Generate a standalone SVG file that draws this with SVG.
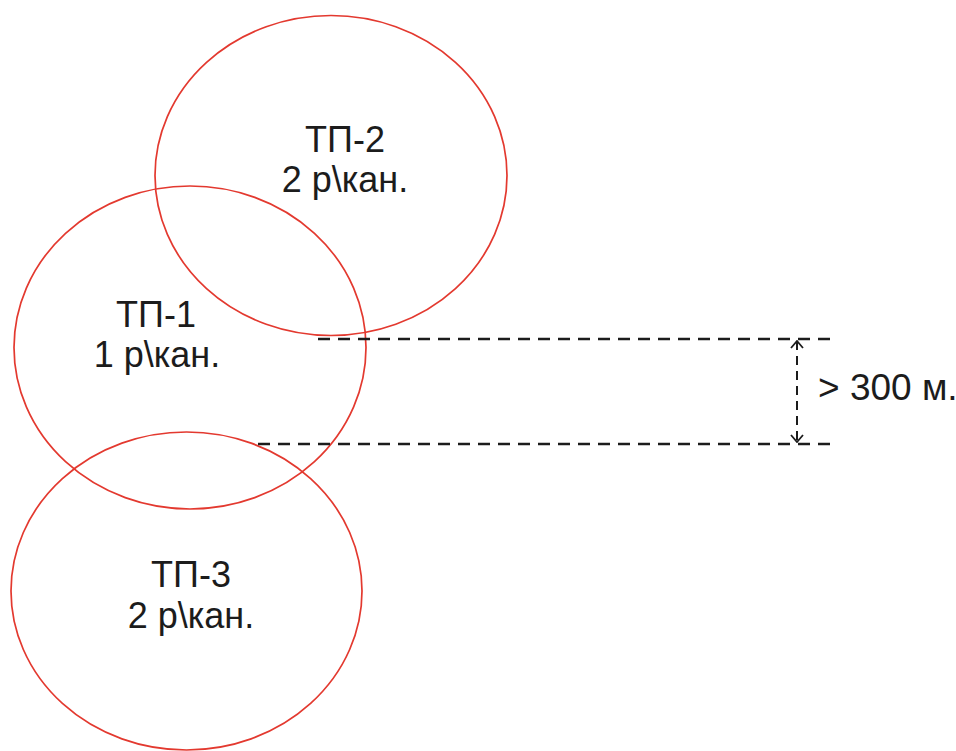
<svg xmlns="http://www.w3.org/2000/svg" width="956" height="751" viewBox="0 0 956 751">
<style>
.zone{fill:none;stroke:#e3392f;stroke-width:1.7}
.lbl{font-family:"Liberation Sans",Arial,sans-serif;font-size:36px;fill:#1c1c1c;text-anchor:middle}
.dim{stroke:#1c1c1c;stroke-width:2.4;stroke-dasharray:12 8;fill:none}
.vdim{stroke:#1c1c1c;stroke-width:2;stroke-dasharray:9 6;fill:none}
</style>
<defs>
<marker id="ah" viewBox="0 0 9 14" refX="8" refY="7" markerWidth="9" markerHeight="14" markerUnits="userSpaceOnUse" orient="auto-start-reverse">
<path d="M1,1 L8,7 L1,13" fill="none" stroke="#1c1c1c" stroke-width="1.8"/>
</marker>
</defs>
<rect width="956" height="751" fill="#ffffff"/>
<g id="tp2">
<ellipse class="zone" cx="331" cy="175.5" rx="176" ry="160"/>
<text class="lbl" x="345" y="152">ТП-2</text>
<text class="lbl" x="345" y="192">2 р\кан.</text>
</g>
<g id="tp1">
<ellipse class="zone" cx="190" cy="347.5" rx="176" ry="161.5"/>
<text class="lbl" x="156" y="327">ТП-1</text>
<text class="lbl" x="157" y="367">1 р\кан.</text>
</g>
<g id="tp3">
<ellipse class="zone" cx="186.5" cy="591" rx="175.5" ry="159"/>
<text class="lbl" x="191" y="587">ТП-3</text>
<text class="lbl" x="191" y="628">2 р\кан.</text>
</g>
<g id="connectors">
<line class="dim" x1="318" y1="339" x2="834" y2="339"/>
<line class="dim" x1="258" y1="444" x2="834" y2="444"/>
<line class="vdim" x1="797" y1="341" x2="797" y2="442" marker-start="url(#ah)" marker-end="url(#ah)"/>
</g>
<g id="dimlabel">
<text x="818" y="400" style="font-family:'Liberation Sans',Arial,sans-serif;font-size:37px;fill:#1c1c1c">&gt; 300 м.</text>
</g>
</svg>
